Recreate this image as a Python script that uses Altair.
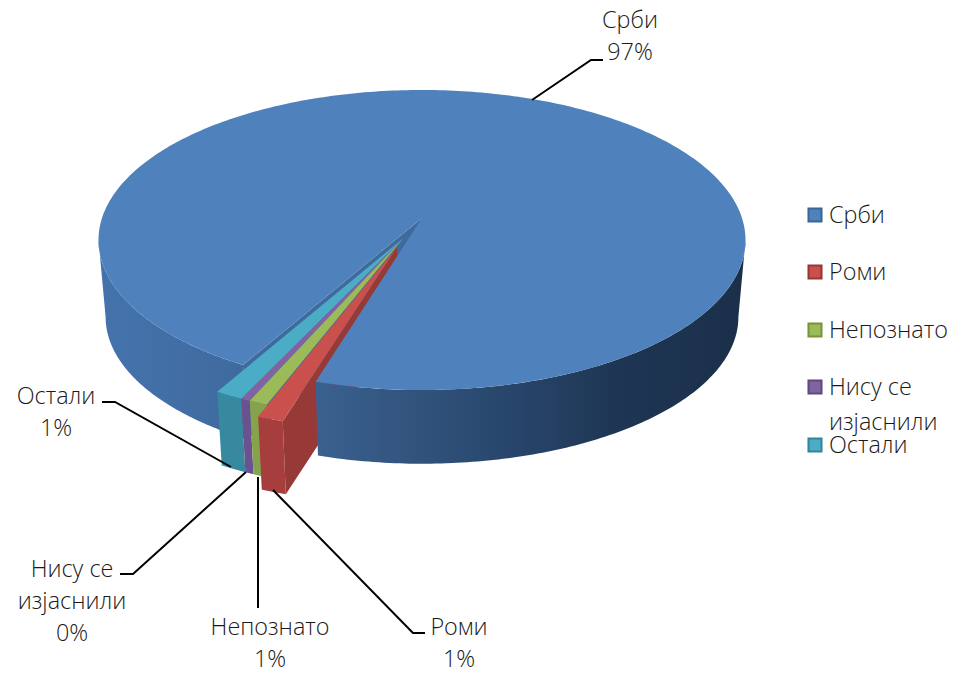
import math
import altair as alt
import pandas as pd

# ---- chart values ----
CATEGORIES = ["Срби", "Роми", "Непознато", "Нису се изјаснили", "Остали"]
VALUES = [96.5, 1.1, 0.8, 0.4, 1.2]
TOP_COLORS = ["#4f81bd", "#c9504c", "#9bbb59", "#8064a2", "#4bacc6"]
WALL_COLORS = ["#3f6a9e", "#a53e3c", "#85a34b", "#69528f", "#37899f"]
LEGEND_BORDER = ["#3a6596", "#953735", "#76923c", "#5f497a", "#31859c"]
RED_EXPLODE = 0.2065
RED_ANGLE = 21.6
GROUP_EXPLODE = 0.147
GROUP_ANGLE = 23.0
RED_INNER = "#963937"
START_ANGLE = 29.2

LABEL_LINES = [
    ("Срби", 630, 20), ("97%", 630, 52),
    ("Роми", 459, 627), ("1%", 459, 659),
    ("Непознато", 270, 627), ("1%", 270, 659),
    ("Нису се", 72, 569), ("изјаснили", 72, 601), ("0%", 72, 633),
    ("Остали", 56, 396), ("1%", 56, 428),
]
LEADERS = [
    [(532, 100), (591, 60), (603, 60)],
    [(273, 490), (413, 633), (425, 633)],
    [(258, 477), (258, 608)],
    [(120, 574), (133, 574), (246, 472)],
    [(102, 402), (115, 402), (231, 467)],
]
LEGEND_Y = [215, 272, 330, 387, 445]
LEGEND_TEXT = [
    ("Срби", 215), ("Роми", 272), ("Непознато", 330),
    ("Нису се", 387), ("изјаснили", 422), ("Остали", 445),
]

# ---- view ----
W, H, M = 944, 665, 8
CX, CY, C0 = 422.0, 240.0, 218.0
A, B, D = 320.0, 0.1467, 146.8
SCALE_B, SHIFT = 0.978, 77.0
FONT = "Open Sans"
TEXT = "#1a1a1a"
FONT_SIZE = 23.4

sx = alt.Scale(domain=[M, M + W], range=[0, W])
sy = alt.Scale(domain=[M, M + H], range=[0, H])
PROJ = alt.Projection(type="identity", reflectY=True, scale=1, translate=[0, 0])
TANGENT = math.degrees(math.acos(B))


def top(u, v):
    w = 1 - B * v
    return CX + A * u / w, C0 + D * v / w


def bottom(u, v):
    x, y = top(u, v)
    return CX + (x - CX) * SCALE_B, CY + (y - CY) * SCALE_B + SHIFT


def rim(a0, a1, off, fn, n=120):
    out = []
    for i in range(n + 1):
        t = math.radians(a0 + (a1 - a0) * i / n)
        out.append(fn(off[0] - math.sin(t), off[1] + math.cos(t)))
    return out


def poly(pts, fill):
    ring = [[x - M, -(y - M)] for x, y in pts]
    ring.append(ring[0])
    feat = {"type": "Feature", "properties": {},
            "geometry": {"type": "Polygon", "coordinates": [ring]}}
    return alt.Chart(alt.Data(values=[feat])).mark_geoshape(
        fill=fill, strokeWidth=0).project(**PROJ.to_dict())


def wall(a0, a1, off, fill):
    return poly(rim(a0, a1, off, top) + rim(a0, a1, off, bottom)[::-1], fill)


# ---- slice angles from the values ----
total = sum(VALUES)
spans, a = [], START_ANGLE
for val in VALUES:
    e = a + val / total * 360
    spans.append((a, e))
    a = e


def offset(angle, ex):
    m = math.radians(angle)
    return (-ex * math.sin(m), ex * math.cos(m))


group_off = offset(GROUP_ANGLE, GROUP_EXPLODE)
offs = [(0, 0), offset(RED_ANGLE, RED_EXPLODE), group_off, group_off, group_off]

b0, b1 = spans[0]
left_grad = alt.Gradient(gradient="linear", x1=0, x2=1, y1=0, y2=0, stops=[
    alt.GradientStop(color="#4473ac", offset=0),
    alt.GradientStop(color="#3f6a9e", offset=1)])
right_grad = alt.Gradient(gradient="linear", x1=0, x2=1, y1=0, y2=0, stops=[
    alt.GradientStop(color="#3b6190", offset=0),
    alt.GradientStop(color="#33557f", offset=0.2),
    alt.GradientStop(color="#28466b", offset=0.45),
    alt.GradientStop(color="#1e3654", offset=0.7),
    alt.GradientStop(color="#1b2f49", offset=1)])

layers = []
# blue left wall and its cut face
layers.append(wall(b0, TANGENT, (0, 0), left_grad))
corner_t = rim(b0, b0, (0, 0), top, 1)[0]
corner_b = rim(b0, b0, (0, 0), bottom, 1)[0]
layers.append(poly([top(0, 0), corner_t, corner_b, bottom(0, 0)], WALL_COLORS[0]))
# small slices, back to front
for i in [4, 3, 2]:
    s0, s1 = spans[i]
    layers.append(wall(s0, s1, offs[i], WALL_COLORS[i]))
    layers.append(poly([top(*offs[i])] + rim(s0, s1, offs[i], top, 12), TOP_COLORS[i]))
# red inner face
r0, r1 = spans[1]
layers.append(poly([top(*offs[1]), rim(r0, r0, offs[1], top, 1)[0],
                    rim(r0, r0, offs[1], bottom, 1)[0], bottom(*offs[1])], RED_INNER))
# blue right wall and top surface
layers.append(wall(360 - TANGENT, b1, (0, 0), right_grad))
layers.append(poly([top(0, 0)] + rim(b0, b1, (0, 0), top, 360), TOP_COLORS[0]))
# red outer wall and top
layers.append(wall(r0, r1, offs[1], WALL_COLORS[1]))
layers.append(poly([top(*offs[1])] + rim(r0, r1, offs[1], top, 12), TOP_COLORS[1]))

# ---- leader lines ----
rows = []
for g, pts in enumerate(LEADERS):
    for k, (x, y) in enumerate(pts):
        rows.append({"g": g, "k": k, "x": x, "y": y})
layers.append(alt.Chart(pd.DataFrame(rows)).mark_line(color="#000000", strokeWidth=2).encode(
    x=alt.X("x:Q", scale=sx, axis=None), y=alt.Y("y:Q", scale=sy, axis=None),
    detail="g:N", order="k:Q"))

# ---- data labels ----
lab = pd.DataFrame(LABEL_LINES, columns=["t", "x", "y"])
layers.append(alt.Chart(lab).mark_text(font=FONT, fontSize=FONT_SIZE, fontWeight=300, color=TEXT,
                                       align="center", baseline="middle", dy=1).encode(
    x=alt.X("x:Q", scale=sx, axis=None), y=alt.Y("y:Q", scale=sy, axis=None), text="t:N"))

# ---- legend ----
leg = pd.DataFrame({"x": [815] * 5, "y": LEGEND_Y, "f": TOP_COLORS, "s": LEGEND_BORDER})
layers.append(alt.Chart(leg).mark_square(size=170, strokeWidth=2, opacity=1).encode(
    x=alt.X("x:Q", scale=sx, axis=None), y=alt.Y("y:Q", scale=sy, axis=None),
    fill=alt.Fill("f:N", scale=None), stroke=alt.Stroke("s:N", scale=None)))
lt = pd.DataFrame(LEGEND_TEXT, columns=["t", "y"])
lt["x"] = 829
layers.append(alt.Chart(lt).mark_text(font=FONT, fontSize=FONT_SIZE, fontWeight=300, color=TEXT,
                                      align="left", baseline="middle", dy=1).encode(
    x=alt.X("x:Q", scale=sx, axis=None), y=alt.Y("y:Q", scale=sy, axis=None), text="t:N"))

chart = alt.layer(*layers).properties(
    width=W, height=H, padding=0, autosize=alt.AutoSizeParams(type="none"),
    background="#ffffff"
).configure_view(stroke=None)

chart.save("out.html", embed_options={"renderer": "svg", "actions": False})
